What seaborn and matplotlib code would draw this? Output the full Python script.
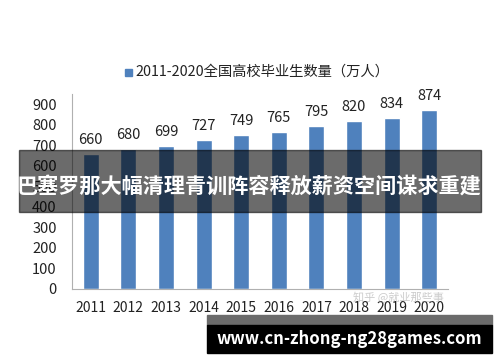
import numpy as np
import pandas as pd
import seaborn as sns
import matplotlib.pyplot as plt
from matplotlib.patches import Rectangle

years = ['2011', '2012', '2013', '2014', '2015', '2016', '2017', '2018', '2019', '2020']
grads = [660, 680, 699, 727, 749, 765, 795, 820, 834, 874]
legend_label = '2011-2020全国高校毕业生数量（万人）'
banner_text = '巴塞罗那大幅清理青训阵容释放薪资空间谋求重建'
url_text = 'www.cn-zhong-ng28games.com'
watermark = '知乎 @就业那些事'

sns.set_style('white')
plt.rcParams['font.family'] = ['Noto Sans CJK SC', 'DejaVu Sans']

df = pd.DataFrame({'year': years, 'grads': grads})
bar_color = '#4F81BD'

fig = plt.figure(figsize=(5, 3.62), dpi=100)
ax = fig.add_axes([0.144, 0.2017, 0.752, 0.5386])
sns.barplot(data=df, x='year', y='grads', color=bar_color, width=0.43,
            saturation=1, ax=ax)
ax.bar_label(ax.containers[0], padding=5, fontsize=10.5, color='#222222')

ax.set_ylim(0, 950)
ax.set_xlim(-0.5, len(years) - 0.5)
ax.set_yticks(np.arange(0, 901, 100))
ax.set_xlabel('')
ax.set_ylabel('')
for s in ['top', 'right']:
    ax.spines[s].set_visible(False)
for s in ['left', 'bottom']:
    ax.spines[s].set_color('#b0b0b0')
ax.tick_params(axis='y', direction='in', length=4, color='#b0b0b0',
               labelsize=10.5, labelcolor='#222222', pad=11)
ax.tick_params(axis='x', length=0, labelsize=10, labelcolor='#222222', pad=9)
ax.set_xticks(np.arange(len(years)) + 0.5, minor=True)
ax.tick_params(axis='x', which='minor', direction='in', length=4, color='#b0b0b0')

# legend
fig.patches.append(Rectangle((125 / 500, 1 - 76 / 362), 7 / 500, 7 / 362,
                             transform=fig.transFigure, color=bar_color))
fig.text(135 / 500, 1 - 72 / 362, legend_label, fontsize=10.3, color='#222222',
         va='center', ha='left')

# watermark
fig.text(398 / 500, 1 - 297 / 362, watermark, fontsize=8, color='#999999',
         alpha=0.5, ha='center', va='center')

# overlay banner
fig.patches.append(Rectangle((19 / 500, 1 - 212 / 362), 462 / 500, 62 / 362,
                             transform=fig.transFigure, color='black',
                             alpha=0.58, zorder=10))
fig.text(249 / 500, 1 - 186 / 362, banner_text, fontsize=15.2,
         fontweight='bold', color='white', ha='center', va='center', zorder=11)

# bottom url box
fig.patches.append(Rectangle((207 / 500, 1 - 325 / 362), 285 / 500, 10 / 362,
                             transform=fig.transFigure, color='#6b6b6b', zorder=10))
fig.patches.append(Rectangle((207 / 500, 1 - 353 / 362), 285 / 500, 28 / 362,
                             transform=fig.transFigure, color='black', zorder=10))
fig.text(349 / 500, 1 - 339 / 362, url_text, fontsize=12, fontweight='bold',
         color='white', ha='center', va='center', zorder=11)

fig.savefig('out.png', dpi=100)
